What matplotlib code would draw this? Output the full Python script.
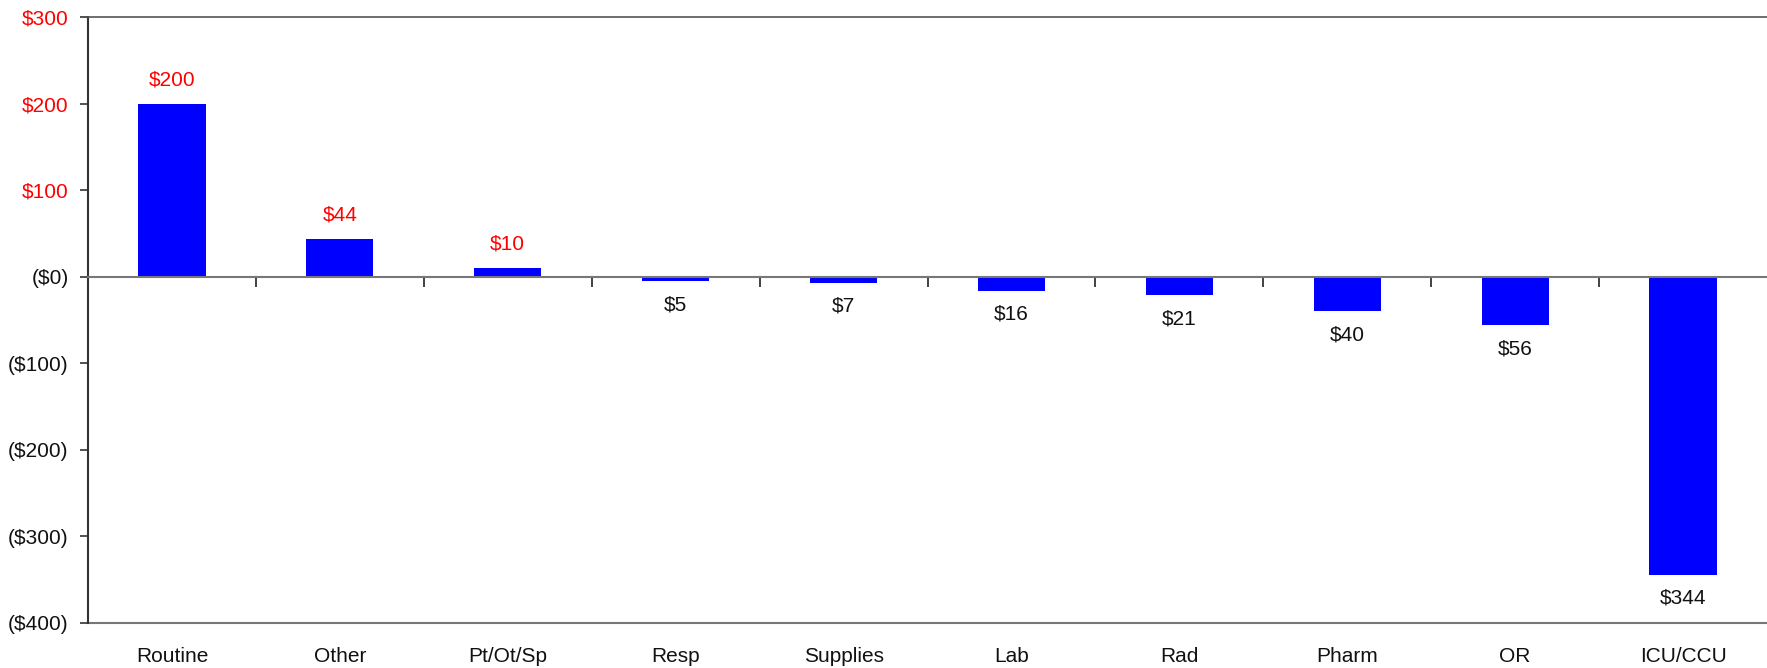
import matplotlib
matplotlib.use("Agg")
import matplotlib.pyplot as plt
import numpy as np

plt.rcParams['font.family'] = ['Liberation Sans', 'DejaVu Sans']

categories = ["Routine", "Other", "Pt/Ot/Sp", "Resp", "Supplies", "Lab", "Rad", "Pharm", "OR", "ICU/CCU"]
values = [200, 44, 10, -5, -7, -16, -21, -40, -56, -344]
yticks = [300, 200, 100, 0, -100, -200, -300, -400]

FS = 15

fig = plt.figure(figsize=(17.67, 6.68), dpi=100)
ax = fig.add_axes([88 / 1767, 1 - 623 / 668, (1767 - 88) / 1767, (623 - 17) / 668])

x = np.arange(len(categories))
ax.bar(x, values, width=0.4, color="#0000ff", zorder=2)

ax.set_xlim(-0.5, len(categories) - 0.5)
ax.set_ylim(-400, 300)

def money(v):
    return f"${v:.0f}" if v > 0 else f"(${abs(v):.0f})"

ax.set_yticks(yticks)
ax.set_yticklabels([money(v) for v in yticks], fontsize=FS)
ax.tick_params(axis="y", direction="out", length=6, width=1.2, pad=8, colors="#333333")
for lab, v in zip(ax.get_yticklabels(), yticks):
    lab.set_color("red" if v > 0 else "#111111")

# Category axis through zero with separator ticks between categories
ax.spines["bottom"].set_position(("data", 0))
ax.spines["bottom"].set_color("#777777")
ax.spines["bottom"].set_linewidth(1.5)
ax.set_xticks(x)
ax.set_xticks(np.arange(0.5, len(categories) - 1, 1.0), minor=True)
ax.tick_params(axis="x", which="major", length=0, labelbottom=False)
ax.tick_params(axis="x", which="minor", direction="out", length=7, width=1.2, color="#222222")

ax.spines["left"].set_color("#333333")
ax.spines["left"].set_linewidth(1.5)
ax.spines["top"].set_color("#555555")
ax.spines["top"].set_linewidth(1.2)
ax.spines["right"].set_visible(False)

# Category labels along the bottom edge
sec = ax.secondary_xaxis(0)
sec.set_xticks(x)
sec.set_xticklabels(categories, fontsize=FS, color="#111111")
sec.tick_params(length=0, pad=17)
sec.spines["bottom"].set_color("#777777")
sec.spines["bottom"].set_linewidth(1.5)

# Value labels
for xi, v in zip(x, values):
    if v > 0:
        ax.annotate(f"${v}", (xi, v), xytext=(0, 17), textcoords="offset points",
                    ha="center", va="center", color="red", fontsize=FS)
    else:
        ax.annotate(f"${abs(v)}", (xi, v), xytext=(0, -17), textcoords="offset points",
                    ha="center", va="center", color="#111111", fontsize=FS)

fig.savefig("out.png", dpi=100)
